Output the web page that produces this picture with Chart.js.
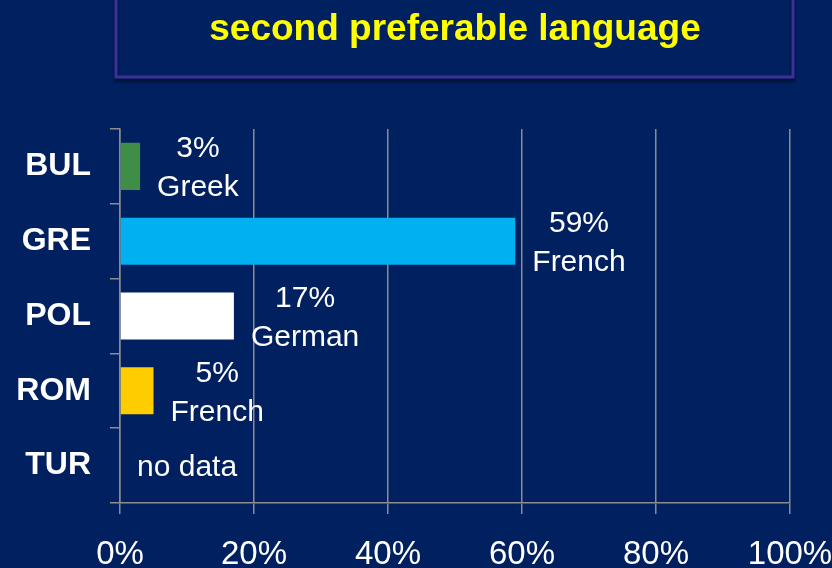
<!DOCTYPE html>
<html>
<head>
<meta charset="utf-8">
<script src="https://cdn.jsdelivr.net/npm/chart.js@4/dist/chart.umd.min.js"></script>
<style>
  html, body { margin: 0; padding: 0; background: #002060; overflow: hidden; }
  #wrap { width: 832px; height: 568px; position: relative; }
</style>
</head>
<body>
<div id="wrap"><canvas id="langChart"></canvas></div>
<script>
// データ
const countries = ['BUL', 'GRE', 'POL', 'ROM', 'TUR'];
const shares = [3, 59, 17, 5, null];          // % (TUR = no data)
const languages = ['Greek', 'French', 'German', 'French', ''];
const barColors = ['#3f8e48', '#00b0f0', '#ffffff', '#ffcc00', 'rgba(0,0,0,0)'];
const xTicks = [0, 20, 40, 60, 80, 100];

const BG = '#002060';
const GRID = '#8c8c8c';
const FONT = '"Liberation Sans", Arial, sans-serif';

// 背景とタイトル枠
const backdrop = {
    id: 'backdrop',
    beforeDraw(chart) {
        const { ctx, chartArea } = chart;
        ctx.save();
        ctx.fillStyle = BG;
        ctx.fillRect(0, 0, chart.width, chart.height);
        // タイトルの枠 (影付き)
        ctx.shadowColor = 'rgba(0, 0, 0, 0.55)';
        ctx.shadowOffsetY = 3;
        ctx.shadowBlur = 3;
        ctx.strokeStyle = '#3b3199';
        ctx.lineWidth = 3;
        ctx.strokeRect(chartArea.left - 4, -10, chartArea.right - chartArea.left + 7, 87);
        ctx.restore();
    }
};

// バーの右側に「xx% / 言語」ラベル
const barLabels = {
    id: 'barLabels',
    afterDatasetsDraw(chart) {
        const { ctx } = chart;
        const xs = chart.scales.x;
        const ys = chart.scales.y;
        ctx.save();
        ctx.font = `30px ${FONT}`;
        ctx.fillStyle = '#ffffff';
        ctx.textAlign = 'center';
        ctx.textBaseline = 'middle';
        shares.forEach((v, i) => {
            const lines = (v === null) ? ['no data'] : [`${v}%`, languages[i]];
            const endX = xs.getPixelForValue(v ?? 0);
            const cy = ys.getPixelForValue(i) + 2;
            const w = Math.max(...lines.map(t => ctx.measureText(t).width));
            const cx = endX + 17 + w / 2;
            const lh = 39;
            const y0 = cy - (lines.length - 1) * lh / 2;
            lines.forEach((t, k) => ctx.fillText(t, cx, y0 + k * lh));
        });
        ctx.restore();
    }
};

new Chart(document.getElementById('langChart'), {
    type: 'bar',
    data: {
        labels: countries,
        datasets: [{
            data: shares,
            backgroundColor: barColors,
            borderWidth: 0,
            barPercentage: 0.63,
            categoryPercentage: 1.0
        }]
    },
    options: {
        indexAxis: 'y',
        responsive: true,
        maintainAspectRatio: false,
        animation: false,
        layout: { padding: { left: 0, right: 42, top: 0, bottom: 0 } },
        plugins: {
            legend: { display: false },
            tooltip: { enabled: false },
            title: {
                display: true,
                fullSize: false,
                text: 'second preferable language',
                color: '#ffff00',
                font: { family: FONT, size: 37, weight: 'bold', lineHeight: 1.2 },
                padding: { top: 8, bottom: 76.6 }
            }
        },
        scales: {
            x: {
                min: 0,
                max: 100,
                afterBuildTicks: (scale) => {
                    scale.ticks = xTicks.map(v => ({ value: v }));
                },
                afterFit: (scale) => {
                    scale.height = 65;
                    scale.paddingLeft = 0;
                    scale.paddingRight = 0;
                },
                grid: { color: GRID, lineWidth: 1.5, tickLength: 11 },
                border: { color: GRID, width: 1.5 },
                ticks: {
                    color: '#ffffff',
                    padding: 21,
                    maxRotation: 0,
                    font: { family: FONT, size: 33 },
                    callback: (v) => v + '%'
                }
            },
            y: {
                afterFit: (scale) => { scale.width = 120; },
                grid: { offset: true, drawOnChartArea: false, color: GRID, lineWidth: 1.5, tickLength: 10 },
                border: { color: GRID, width: 1.5 },
                ticks: {
                    color: '#ffffff',
                    padding: 19,
                    font: { family: FONT, size: 32, weight: 'bold' }
                }
            }
        }
    },
    plugins: [backdrop, barLabels]
});
</script>
</body>
</html>
